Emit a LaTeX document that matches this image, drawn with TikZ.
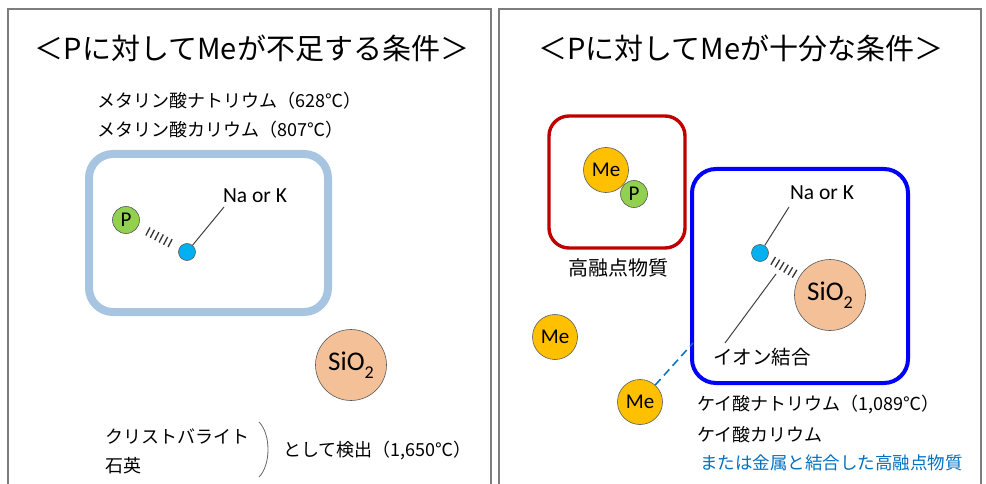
\documentclass[tikz,border=0pt]{standalone}
\usepackage{fontspec}
\setmainfont{Noto Sans CJK JP}
\newfontfamily\lat{Carlito}
\usetikzlibrary{calc}
\definecolor{panelgray}{RGB}{125,125,125}
\definecolor{boxblue}{RGB}{167,196,224}
\definecolor{pgreen}{RGB}{146,208,80}
\definecolor{nablue}{RGB}{0,176,240}
\definecolor{siofill}{RGB}{243,192,152}
\definecolor{mefill}{RGB}{255,192,0}
\definecolor{redbox}{RGB}{192,0,0}
\definecolor{bluebox}{RGB}{0,0,255}
\definecolor{linkblue}{RGB}{0,112,192}
\begin{document}
\begin{tikzpicture}[x=1pt,y=-1pt,
  atom/.style={circle,draw=black!65,line width=0.6pt,inner sep=0pt},
  patom/.style={atom,fill=pgreen,minimum size=27pt,font=\lat\fontsize{21}{21}\selectfont},
  naatom/.style={atom,fill=nablue,minimum size=17pt},
  meatom/.style={atom,fill=mefill,minimum size=45pt,font=\lat\fontsize{21}{21}\selectfont},
  sioatom/.style={atom,fill=siofill,minimum size=71pt,font=\lat\fontsize{27}{27}\selectfont},
  titletext/.style={font=\fontsize{29}{32}\selectfont,inner sep=0pt},
  jp/.style={font=\fontsize{18}{22}\selectfont,inner sep=0pt,anchor=west},
  latlabel/.style={font=\lat\fontsize{21.5}{22}\selectfont,inner sep=0pt},
  hatch/.style={line width=9pt,dash pattern=on 1.3pt off 3.7pt,draw=black!80},
  stick/.style={draw=black!75,line width=1pt},
  panel/.style={draw=panelgray,line width=1.3pt}]
\useasboundingbox (0,0) rectangle (986,484);
% panels
\draw[panel] (8,500) -- (8,9) -- (491,9) -- (491,500);
\draw[panel] (499,500) -- (499,9) -- (981,9) -- (981,500);
% ---------- left panel ----------
\node[titletext] (t1) at (252,48) {＜Pに対してMeが不足する条件＞};
\node[jp] (m1) at (97,101) {メタリン酸ナトリウム（628℃）};
\node[jp] (m2) at (97,130) {メタリン酸カリウム（807℃）};
\draw[draw=boxblue,line width=8pt,rounded corners=24pt] (89,154) rectangle (328,312);
\node[patom] (P1) at (126,220) {P};
\node[naatom] (na1) at (187,252) {};
\node[latlabel] (nal1) at (255,196) {Na or K};
\coordinate (nae1) at (224,207);
\draw[hatch] ($(P1)!0.35!(na1)$) -- ($(P1)!0.76!(na1)$);
\draw[stick] (na1) -- (nae1);
\node[sioatom] (sio1) at (351,365) {SiO\raisebox{-0.28em}{\fontsize{18}{18}\selectfont 2}};
\node[jp] (c1) at (105,437) {クリストバライト};
\node[jp] (c2) at (105,466) {石英};
\draw[draw=black!60,line width=0.8pt] (259,422) .. controls (271,434) and (271,465) .. (259,477);
\node[jp] (det) at (283,451) {として検出（1,650℃）};
% ---------- right panel ----------
\node[titletext] (t2) at (741,48) {＜Pに対してMeが十分な条件＞};
\draw[draw=redbox,line width=3.4pt,rounded corners=20pt] (549,116) rectangle (685,248);
\node[meatom] (me1) at (606,170) {Me};
\node[patom] (P2) at (634,194) {P};
\node[font=\fontsize{20}{22}\selectfont,inner sep=0pt] (hm) at (618,268) {高融点物質};
\draw[draw=bluebox,line width=4pt,rounded corners=24pt] (692,169) rectangle (908,383);
\node[latlabel] (nal2) at (822,193) {Na or K};
\coordinate (nae2) at (789,207);
\node[naatom] (na2) at (760,253) {};
\node[sioatom] (sio2) at (830,295) {SiO\raisebox{-0.28em}{\fontsize{18}{18}\selectfont 2}};
\draw[hatch] ($(na2)!0.18!(sio2)$) -- ($(na2)!0.52!(sio2)$);
\draw[stick] (na2) -- (nae2);
\node[font=\fontsize{19.5}{22}\selectfont,inner sep=0pt,anchor=west] (ion) at (713,357) {イオン結合};
\coordinate (ion1) at (776,274);
\coordinate (ion2) at (725,343);
\draw[stick] (ion2) -- (ion1);
\node[meatom] (me2) at (555,337) {Me};
\node[meatom] (me3) at (640,402) {Me};
\coordinate (dashend) at (693,343);
\draw[draw=linkblue,line width=1.5pt,dash pattern=on 8pt off 5pt] (me3) -- (dashend);
\node[jp] (k1) at (697,405) {ケイ酸ナトリウム（1,089℃）};
\node[jp] (k2) at (697,435) {ケイ酸カリウム};
\node[jp,text=linkblue,font=\fontsize{17.5}{20}\selectfont] (k3) at (700,463) {または金属と結合した高融点物質};
\end{tikzpicture}
\end{document}
